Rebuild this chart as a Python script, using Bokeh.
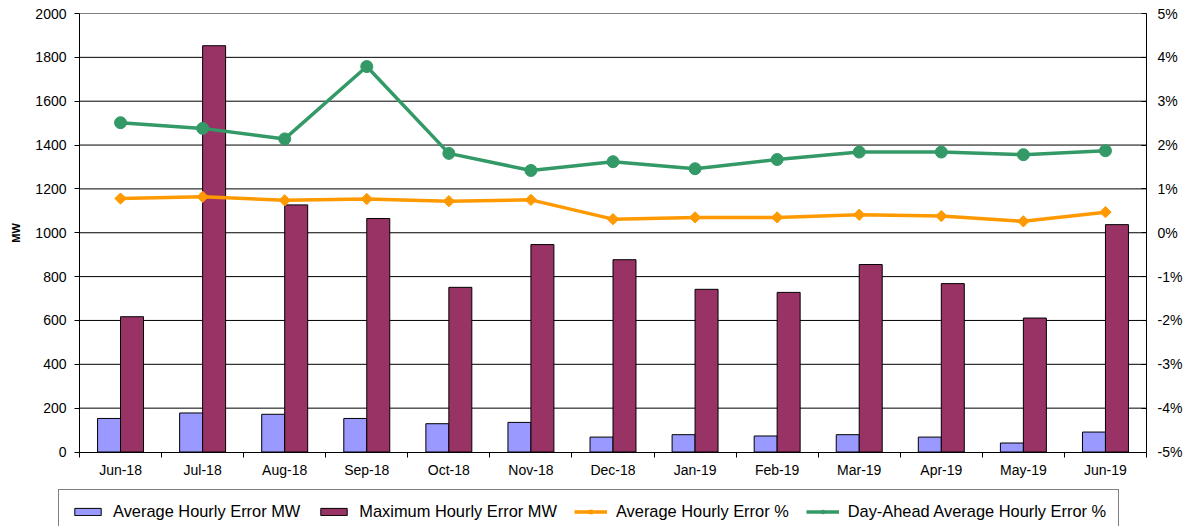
import numpy as np
from bokeh.plotting import figure
from bokeh.models import (Range1d, LinearAxis, FixedTicker, PrintfTickFormatter,
                          CustomJSTickFormatter, Legend, LegendItem)
from bokeh.embed import file_html
from bokeh.resources import INLINE

months = ["Jun-18", "Jul-18", "Aug-18", "Sep-18", "Oct-18", "Nov-18", "Dec-18",
          "Jan-19", "Feb-19", "Mar-19", "Apr-19", "May-19", "Jun-19"]
avg_mw = [153, 178, 172, 153, 129, 135, 68, 79, 73, 79, 68, 41, 91]
max_mw = [617, 1853, 1127, 1065, 751, 946, 877, 742, 728, 855, 768, 611, 1037]
avg_pct = [0.78, 0.82, 0.74, 0.77, 0.72, 0.75, 0.31, 0.35, 0.35, 0.41, 0.38, 0.26, 0.47]
da_pct = [2.51, 2.38, 2.14, 3.79, 1.81, 1.42, 1.62, 1.46, 1.67, 1.84, 1.84, 1.78, 1.87]
mw_ticks = list(range(0, 2001, 200))
pct_ticks = list(range(-5, 6))
series_names = ["Average Hourly Error MW", "Maximum Hourly Error MW",
                "Average Hourly Error %", "Day-Ahead Average Hourly Error %"]

FONT = "Liberation Sans"
C_AVG, C_MAX, C_ORG, C_GRN = "#9999FF", "#993366", "#FF9900", "#339966"
n = len(months)
centers = np.arange(n) + 0.5

# ---- layout in pixels (figure coordinates); the frame covers the whole figure
W, H = 1189, 526
PL, PR = 79, 1146          # plot area left / right
PT, PB = 13, 451.5         # plot area top (2000) / bottom (0)
mw_max = mw_ticks[-1]
pct_min, pct_max = pct_ticks[0], pct_ticks[-1]
ux = (PR - PL) / n
uy = (PB - PT) / mw_max
up = (PB - PT) / (pct_max - pct_min)
x_rng = Range1d(-PL / ux, n + (W - PR) / ux)
y_rng = Range1d(-(H - PB) / uy, mw_max + PT / uy)
p_rng = Range1d(pct_min - (H - PB) / up, pct_max + PT / up)

p = figure(width=W, height=H, x_range=x_rng, y_range=y_rng,
           output_backend="svg", toolbar_location=None, x_axis_type=None, y_axis_type=None,
           min_border=0, min_border_left=0, min_border_right=0,
           min_border_top=0, min_border_bottom=0)
p.background_fill_color = "white"
p.border_fill_color = "white"
p.outline_line_color = None
p.grid.grid_line_color = None
p.extra_y_ranges = {"pct": p_rng}

# gridlines limited to the plot area
grid_vals = mw_ticks[1:-1]
p.segment(x0=[0] * len(grid_vals), x1=[n] * len(grid_vals), y0=grid_vals, y1=grid_vals,
          line_color="black", line_width=1)
p.segment(x0=[0], x1=[n], y0=[mw_max], y1=[mw_max], line_color="#808080", line_width=1)

# left axis
yax = LinearAxis(ticker=FixedTicker(ticks=mw_ticks), fixed_location=0, bounds=(0, mw_max))
yax.axis_label = "MW"
yax.axis_label_text_font = FONT
yax.axis_label_text_font_size = "11px"
yax.axis_label_text_font_style = "bold"
yax.axis_label_text_color = "black"
yax.axis_label_standoff = 10
yax.major_label_text_font = FONT
yax.major_label_text_font_size = "14px"
yax.major_label_text_color = "black"
yax.major_label_standoff = 8
yax.major_tick_out = 5
yax.major_tick_in = 0
yax.minor_tick_line_color = None
yax.axis_line_color = "black"
yax.major_tick_line_color = "black"
p.add_layout(yax, "left")

# bottom axis
xax = LinearAxis(ticker=FixedTicker(ticks=list(centers), minor_ticks=list(range(n + 1))),
                 fixed_location=0, bounds=(0, n))
xax.formatter = CustomJSTickFormatter(args=dict(months=months),
                                      code="const i = Math.floor(tick); return months[i] || '';")
xax.major_tick_line_color = None
xax.major_tick_out = 0
xax.major_tick_in = 0
xax.minor_tick_out = 5
xax.minor_tick_in = 0
xax.minor_tick_line_color = "black"
xax.axis_line_color = "black"
xax.major_label_text_font = FONT
xax.major_label_text_font_size = "14px"
xax.major_label_text_color = "black"
xax.major_label_standoff = 5
p.add_layout(xax, "below")

# right axis
rax = LinearAxis(y_range_name="pct", ticker=FixedTicker(ticks=pct_ticks),
                 formatter=PrintfTickFormatter(format="%d%%"),
                 fixed_location=n, bounds=(pct_min, pct_max))
rax.major_label_text_font = FONT
rax.major_label_text_font_size = "14px"
rax.major_label_text_color = "black"
rax.major_label_standoff = 11
rax.major_tick_out = 0
rax.major_tick_in = 5
rax.minor_tick_line_color = None
rax.axis_line_color = "black"
rax.major_tick_line_color = "black"
p.add_layout(rax, "right")

bw = 0.28
r_avg = p.vbar(x=centers - bw / 2, top=avg_mw, width=bw, fill_color=C_AVG,
               line_color="black", line_width=1)
r_max = p.vbar(x=centers + bw / 2, top=max_mw, width=bw, fill_color=C_MAX,
               line_color="black", line_width=1)
r_ol = p.line(centers, avg_pct, y_range_name="pct", line_color=C_ORG, line_width=3.5)
r_om = p.scatter(centers, avg_pct, y_range_name="pct", marker="square", angle=np.pi / 4,
                 size=8, fill_color=C_ORG, line_color=C_ORG)
r_gl = p.line(centers, da_pct, y_range_name="pct", line_color=C_GRN, line_width=3.5)
r_gm = p.scatter(centers, da_pct, y_range_name="pct", marker="circle",
                 size=12, fill_color=C_GRN, line_color=C_GRN)

legend = Legend(items=[
    LegendItem(label=series_names[0], renderers=[r_avg]),
    LegendItem(label=series_names[1], renderers=[r_max]),
    LegendItem(label=series_names[2], renderers=[r_ol, r_om]),
    LegendItem(label=series_names[3], renderers=[r_gl, r_gm]),
], orientation="horizontal", location=(58, -8))
legend.glyph_width = 33
legend.glyph_height = 9
legend.label_text_font = FONT
legend.label_text_font_size = "16.4px"
legend.label_text_color = "black"
legend.label_standoff = 9
legend.label_height = 18
legend.spacing = 17
legend.padding = 12
legend.margin = 0
legend.border_line_color = "black"
legend.border_line_width = 1.5
legend.background_fill_color = "white"
legend.background_fill_alpha = 1
p.add_layout(legend)

open("out.html", "w").write(file_html(p, INLINE))
